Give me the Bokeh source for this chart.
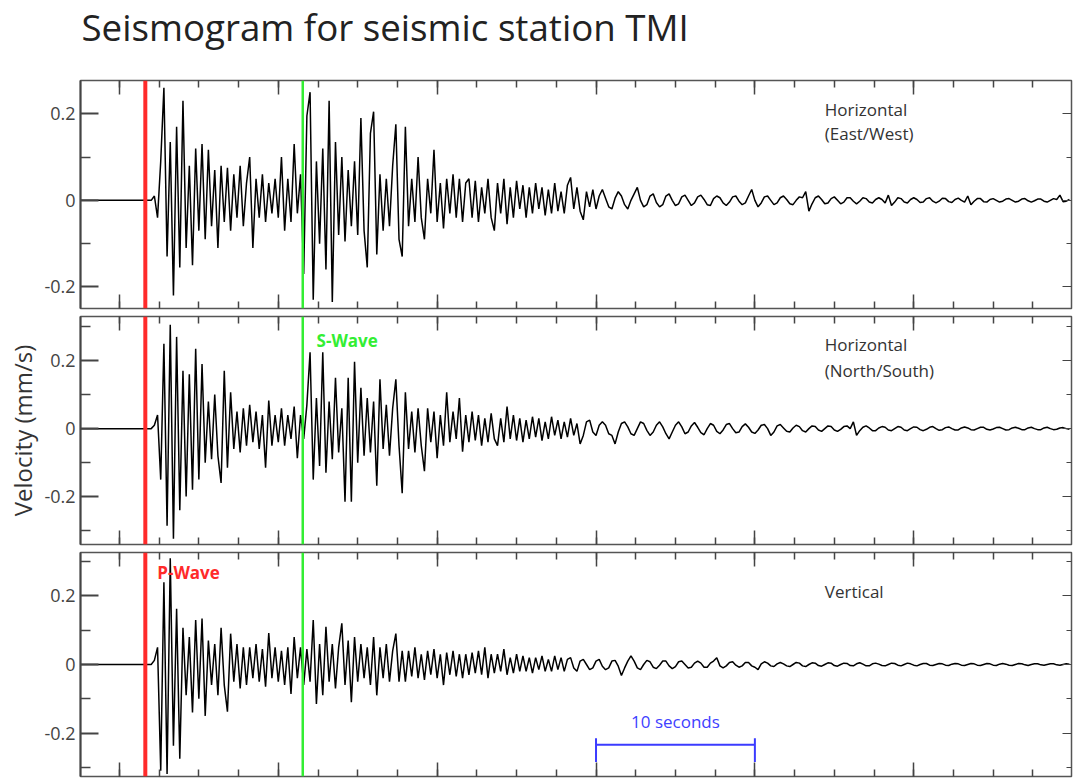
import numpy as np
from bokeh.plotting import figure
from bokeh.layouts import column
from bokeh.models import (Range1d, LinearAxis, FixedTicker, Span, Label,
                          CustomJSTickFormatter, CustomLabelingPolicy)
from bokeh.embed import file_html
from bokeh.resources import INLINE

# ---------------- data ----------------
title_text = "Seismogram for seismic station TMI"
y_label = "Velocity (mm/s)"
panel_names = [["Horizontal", "(East/West)"], ["Horizontal", "(North/South)"], ["Vertical"]]

t_start, t_end = -2.45, 59.93         # seconds shown
sample_start, sample_step = 2.0, 0.2  # sampling grid of the traces below
p_wave_time = 1.63
s_wave_time = 11.54
scale_bar_start, scale_bar_len = 30.0, 10.0
scale_bar_text = "10 seconds"

# East/West component (mm/s)
ew_values = [
    0.0, 0.01, -0.04, 0.09, 0.26, -0.13, 0.135, -0.22, 0.17, -0.155,
    0.23, -0.11, 0.08, -0.15, 0.12, -0.07, 0.13, -0.09, 0.117, -0.06,
    0.07, -0.11, 0.08, -0.05, 0.075, -0.07, 0.06, -0.04, 0.08, -0.06,
    0.04, 0.1, -0.11, 0.05, -0.04, 0.06, -0.05, 0.04, -0.03, 0.05,
    -0.04, 0.1, -0.07, 0.05, -0.05, 0.13, -0.03, 0.06, -0.17, 0.195,
    0.25, -0.23, 0.09, -0.1, 0.12, -0.16, 0.23, -0.235, 0.135, -0.08,
    0.1, -0.095, 0.07, -0.06, 0.09, -0.08, 0.19, -0.07, -0.155, 0.155,
    0.205, -0.125, 0.06, -0.07, 0.05, -0.06, 0.08, 0.176, -0.09, -0.13,
    0.17, -0.06, 0.05, -0.05, 0.1, -0.04, -0.09, 0.05, -0.03, 0.117,
    -0.05, 0.04, -0.065, 0.05, -0.03, 0.06, -0.04, 0.05, -0.05, 0.04,
    0.05, -0.04, 0.045, -0.05, 0.03, -0.03, 0.05, -0.04, -0.07, 0.04,
    -0.03, 0.05, -0.055, 0.03, -0.04, 0.045, -0.02, 0.035, -0.04, 0.03,
    -0.03, 0.04, -0.02, 0.03, -0.035, 0.025, -0.03, 0.04, -0.025, 0.02,
    -0.03, 0.035, 0.053, -0.02, 0.03, -0.025, -0.045, 0.02, -0.015, 0.025,
    -0.02, 0.01, 0.025, 0.005, -0.015, -0.02, 0.005, 0.02, 0.01, -0.01,
    -0.02, 0.0, 0.015, 0.03, 0.0, -0.015, -0.01, 0.01, 0.015, -0.005,
    -0.015, -0.01, 0.01, 0.015, 0.0, -0.012, -0.008, 0.008, 0.012, 0.0,
    -0.012, -0.006, 0.008, 0.012, 0.002, -0.01, -0.012, 0.004, 0.01, 0.006,
    -0.006, -0.012, -0.004, 0.008, 0.01, -0.002, -0.01, -0.006, 0.01, 0.025,
    0.0, -0.015, -0.006, 0.008, 0.01, 0.0, -0.01, -0.006, 0.006, 0.01,
    0.002, -0.008, -0.01, 0.0, 0.008, 0.006, 0.02, -0.025, -0.008, 0.006,
    0.01, 0.002, -0.008, -0.006, 0.004, 0.008, 0.0, -0.008, -0.004, 0.006,
    0.006, -0.002, -0.008, -0.002, 0.006, 0.004, -0.004, -0.006, 0.002, 0.006,
    0.002, -0.006, 0.012, -0.012, -0.004, 0.006, 0.004, -0.004, -0.006, 0.002,
    0.006, 0.002, -0.005, -0.004, 0.004, 0.006, -0.002, -0.006, -0.002, 0.005,
    0.004, -0.003, -0.005, 0.002, 0.005, 0.0, -0.004, 0.01, -0.01, -0.002,
    0.004, 0.004, -0.003, -0.004, 0.002, 0.004, 0.0, -0.004, -0.002, 0.003,
    0.004, 0.0, -0.004, -0.002, 0.003, 0.004, -0.001, -0.004, -0.001, 0.003,
    0.003, -0.002, -0.004, 0.0, 0.004, 0.002, 0.012, -0.003, -0.002, 0.002,
]

# North/South component (mm/s)
ns_values = [
    0.0, 0.01, 0.04, -0.15, 0.25, -0.286, 0.306, -0.324, 0.27, -0.24,
    0.17, -0.2, 0.16, -0.18, 0.235, -0.15, 0.19, -0.1, 0.08, -0.09,
    0.1, -0.08, -0.16, 0.17, -0.115, 0.107, -0.06, 0.05, -0.07, 0.06,
    -0.05, 0.07, -0.04, 0.05, -0.06, 0.04, -0.115, 0.083, -0.05, 0.04,
    -0.04, 0.06, -0.05, 0.04, -0.03, 0.065, -0.087, 0.04, -0.03, 0.07,
    0.225, -0.15, 0.09, -0.11, 0.225, -0.13, 0.08, -0.09, 0.15, -0.07,
    0.06, -0.215, 0.15, -0.215, 0.197, -0.1, 0.12, -0.08, 0.09, -0.07,
    0.08, -0.168, 0.145, -0.06, 0.07, -0.08, 0.06, 0.145, -0.05, -0.19,
    0.107, -0.06, 0.05, -0.07, 0.06, -0.05, -0.125, 0.06, -0.04, 0.05,
    -0.087, 0.04, -0.05, 0.107, -0.04, 0.05, -0.03, 0.09, -0.068, 0.04,
    -0.04, 0.05, -0.035, 0.04, -0.05, 0.03, -0.04, 0.045, -0.03, -0.05,
    0.03, -0.04, 0.065, -0.03, 0.04, -0.035, 0.03, -0.04, 0.025, -0.03,
    0.035, -0.025, 0.03, -0.035, 0.02, -0.03, 0.035, -0.02, 0.025, -0.03,
    0.02, -0.025, 0.03, -0.02, 0.015, -0.045, -0.02, 0.02, 0.025, -0.01,
    -0.02, 0.01, 0.02, 0.01, -0.015, -0.02, -0.045, -0.01, 0.015, 0.02,
    0.005, -0.015, -0.02, 0.0, 0.02, 0.015, -0.005, -0.02, -0.01, 0.01,
    0.02, 0.005, -0.015, -0.03, -0.01, 0.01, 0.02, 0.005, -0.015, -0.01,
    0.008, 0.018, 0.004, -0.012, -0.018, 0.0, 0.015, 0.01, -0.008, -0.015,
    -0.004, 0.012, 0.015, 0.0, -0.012, -0.01, 0.006, 0.014, 0.004, -0.01,
    -0.014, -0.004, 0.01, 0.012, 0.0, -0.02, -0.01, 0.008, 0.012, 0.002,
    -0.008, -0.01, 0.002, 0.01, 0.006, -0.006, -0.01, 0.0, 0.008, 0.006,
    -0.004, -0.008, 0.0, 0.008, 0.006, -0.004, -0.008, -0.002, 0.006, 0.008,
    0.0, 0.02, -0.02, -0.006, 0.004, 0.008, 0.002, -0.006, -0.006, 0.002,
    0.006, 0.004, -0.004, -0.006, 0.0, 0.006, 0.004, -0.004, -0.006, 0.0,
    0.005, 0.004, -0.003, -0.006, -0.002, 0.004, 0.006, 0.0, -0.005, -0.003,
    0.003, 0.005, 0.0, -0.004, -0.004, 0.002, 0.005, 0.002, -0.003, -0.004,
    0.0, 0.004, 0.004, -0.002, -0.004, -0.001, 0.003, 0.004, 0.0, -0.004,
    -0.003, 0.002, 0.004, 0.001, -0.003, -0.003, 0.002, 0.004, 0.0, -0.003,
    -0.003, 0.002, 0.004, 0.0, -0.003, -0.002, 0.002, 0.003, 0.0, -0.002,
]

# Vertical component (mm/s)
z_values = [
    0.0, 0.012, 0.05, -0.31, 0.24, -0.32, 0.31, -0.237, 0.163, -0.275,
    0.107, -0.09, 0.08, -0.14, 0.13, -0.1, 0.134, -0.15, 0.07, -0.06,
    0.06, -0.09, 0.107, -0.06, -0.138, 0.09, -0.05, 0.06, -0.07, 0.05,
    -0.06, 0.05, -0.04, 0.06, -0.05, 0.045, -0.065, 0.092, -0.04, 0.05,
    -0.05, 0.04, -0.06, 0.05, -0.086, 0.08, -0.04, 0.05, -0.06, 0.045,
    -0.05, 0.13, -0.115, 0.06, -0.09, 0.11, -0.05, 0.06, -0.07, 0.05,
    0.12, -0.06, 0.07, -0.11, 0.08, -0.05, 0.06, -0.04, 0.05, -0.06,
    0.08, -0.09, 0.05, -0.04, 0.06, -0.05, 0.04, 0.09, -0.05, 0.04,
    -0.05, 0.04, -0.035, 0.05, -0.04, 0.03, -0.045, 0.04, -0.03, 0.045,
    -0.04, 0.03, -0.06, 0.035, -0.03, 0.04, -0.035, 0.03, -0.04, 0.03,
    -0.03, 0.035, -0.025, 0.04, -0.03, 0.05, -0.04, 0.03, -0.025, 0.03,
    -0.02, 0.045, -0.03, 0.02, -0.025, 0.03, -0.02, 0.025, -0.02, 0.02,
    -0.025, 0.02, -0.015, 0.025, -0.02, 0.015, -0.02, 0.025, -0.015, 0.02,
    -0.02, 0.015, 0.02, -0.01, -0.02, 0.01, 0.015, 0.0, -0.015, -0.01,
    0.01, 0.015, -0.005, -0.015, -0.01, 0.01, 0.012, -0.005, -0.032, -0.01,
    0.01, 0.025, 0.01, -0.01, -0.015, 0.0, 0.012, 0.008, -0.008, -0.012,
    -0.002, 0.01, 0.01, -0.004, -0.012, -0.006, 0.008, 0.01, 0.0, -0.01,
    -0.008, 0.004, 0.01, 0.004, -0.008, -0.008, 0.004, 0.01, 0.02, -0.004,
    -0.01, -0.004, 0.006, 0.008, -0.002, -0.008, -0.004, 0.006, 0.006, -0.004,
    -0.008, -0.015, 0.002, 0.008, 0.004, -0.004, -0.006, 0.002, 0.006, 0.002,
    -0.004, -0.006, 0.0, 0.006, 0.004, -0.004, -0.006, 0.0, 0.005, 0.004,
    -0.003, -0.005, 0.0, 0.005, 0.004, -0.003, -0.005, 0.0, 0.004, 0.003,
    -0.003, -0.004, 0.002, 0.005, 0.001, -0.004, -0.004, 0.002, 0.004, 0.001,
    -0.003, -0.004, 0.0, 0.004, 0.003, -0.002, -0.004, 0.0, 0.004, 0.002,
    -0.002, -0.004, 0.0, 0.003, 0.003, -0.002, -0.003, 0.0, 0.003, 0.002,
    -0.002, -0.003, 0.001, 0.003, 0.002, -0.002, -0.003, 0.0, 0.003, 0.002,
    -0.002, -0.003, 0.0, 0.003, 0.002, -0.002, -0.003, 0.001, 0.003, 0.001,
    -0.002, -0.003, 0.0, 0.003, 0.002, -0.001, -0.003, 0.0, 0.002, 0.002,
    -0.001, -0.002, 0.0, 0.002, 0.002, -0.001, -0.002, 0.0, 0.002, 0.001,
]

y_major_ticks = [-0.2, 0.0, 0.2]
y_minor_ticks = [-0.3, -0.1, 0.1, 0.3]
x_major_ticks = [0, 10, 20, 30, 40, 50, 60]
x_minor_ticks = [-2.5 + 2.5 * i for i in range(26)]

# ---------------- layout / style ----------------
FONT = "Open Sans"
AX = "#444444"
panels = [
    # values, y-range, figure height, label y positions
    dict(values=ew_values, yr=(-0.250, 0.277), h=236, label_y=[0.21, 0.154]),
    dict(values=ns_values, yr=(-0.341, 0.330), h=236, label_y=[0.247, 0.170]),
    dict(values=z_values, yr=(-0.327, 0.327), h=232, label_y=[0.214]),
]
label_x = 44.4

# ---- title strip (a blank figure that only carries the title text) ----
# its frame is aligned with the panels below (80 px from the left), ranges are in pixels
head = figure(width=1076, height=76, x_range=Range1d(0, 995), y_range=Range1d(0, 76),
              output_backend="svg", toolbar_location=None,
              x_axis_type=None, y_axis_type=None, min_border=0)
head.outline_line_color = None
head.grid.visible = False
head.add_layout(Label(x=1, y=49.4, text=title_text, text_font=FONT, text_font_size="36.7px",
                      text_color="#222222", text_baseline="middle", text_align="left"))

x_range = Range1d(t_start, t_end)
fmt = CustomJSTickFormatter(code="return tick == 0 ? '0' : tick.toFixed(1);")
hide_all = CustomLabelingPolicy(code="for (const i of indices) indices.unset(i); return indices;")

figs = []
for i, pd_ in enumerate(panels):
    p = figure(width=1076, height=pd_["h"], x_range=x_range,
               y_range=Range1d(*pd_["yr"]), output_backend="svg",
               toolbar_location=None, x_axis_type=None, y_axis_type=None,
               min_border_left=80, min_border_right=1,
               min_border_top=0, min_border_bottom=0)
    p.outline_line_color = "#555555"
    p.outline_line_width = 1.5
    p.background_fill_color = "white"
    p.border_fill_color = "white"

    left = LinearAxis(ticker=FixedTicker(ticks=y_major_ticks, minor_ticks=y_minor_ticks),
                      formatter=fmt,
                      major_tick_in=18, major_tick_out=0, minor_tick_in=10, minor_tick_out=0,
                      major_tick_line_color=AX, minor_tick_line_color=AX,
                      major_tick_line_width=2, minor_tick_line_width=1.5,
                      axis_line_color=AX, axis_line_width=2,
                      major_label_text_font=FONT, major_label_text_font_size="18px",
                      major_label_text_color="#444444", major_label_standoff=5)
    if i == 1:
        left.axis_label = y_label
        left.axis_label_text_font = FONT
        left.axis_label_text_font_size = "24px"
        left.axis_label_text_font_style = "normal"
        left.axis_label_text_color = "#333333"
        left.axis_label_standoff = 2
    p.add_layout(left, "left")

    right = LinearAxis(ticker=FixedTicker(ticks=y_major_ticks, minor_ticks=y_minor_ticks),
                       major_tick_in=9, major_tick_out=0, minor_tick_in=5, minor_tick_out=0,
                       major_tick_line_color=AX, minor_tick_line_color=AX,
                       axis_line_color=None, major_label_text_font_size="1px",
                       major_label_policy=hide_all, major_label_standoff=0)
    p.add_layout(right, "right")

    for side in ("above", "below"):
        xa = LinearAxis(ticker=FixedTicker(ticks=x_major_ticks, minor_ticks=x_minor_ticks),
                        major_tick_in=14, major_tick_out=0, minor_tick_in=7, minor_tick_out=0,
                        major_tick_line_color=AX, minor_tick_line_color=AX,
                        major_tick_line_width=1.5, minor_tick_line_width=1.5,
                        axis_line_color=None, major_label_text_font_size="1px",
                        major_label_policy=hide_all, major_label_standoff=0)
        p.add_layout(xa, side)

    vals = pd_["values"]
    t = np.concatenate([[t_start], sample_start + sample_step * np.arange(len(vals))])
    v = np.concatenate([[0.0], vals])
    p.line(t, v, line_color="black", line_width=1.5)

    p.add_layout(Span(location=p_wave_time, dimension="height", line_color="#ff2a2a", line_width=4))
    p.add_layout(Span(location=s_wave_time, dimension="height", line_color="#33ee33", line_width=2.5))

    for name, ly in zip(panel_names[i], pd_["label_y"]):
        p.add_layout(Label(x=label_x, y=ly, text=name, text_font=FONT, text_font_size="17px",
                           text_color="#333333", text_baseline="middle", text_align="left"))
    figs.append(p)

# wave labels
figs[1].add_layout(Label(x=12.41, y=0.259, text="S-Wave", text_font=FONT, text_font_size="17px",
                         text_font_style="bold", text_color="#33ee33", text_baseline="middle"))
figs[2].add_layout(Label(x=2.38, y=0.27, text="P-Wave", text_font=FONT, text_font_size="17px",
                         text_font_style="bold", text_color="#ff2a2a", text_baseline="middle"))

# scale bar
bot = figs[2]
bar_y = -0.234
bot.segment(x0=[scale_bar_start], y0=[bar_y], x1=[scale_bar_start + scale_bar_len], y1=[bar_y],
            line_color="#3b3bff", line_width=2)
bot.segment(x0=[scale_bar_start, scale_bar_start + scale_bar_len], y0=[-0.215, -0.215],
            x1=[scale_bar_start, scale_bar_start + scale_bar_len], y1=[-0.285, -0.285],
            line_color="#3b3bff", line_width=2)
bot.add_layout(Label(x=scale_bar_start + scale_bar_len / 2, y=-0.166, text=scale_bar_text,
                     text_font=FONT, text_font_size="17px", text_color="#4040ff",
                     text_align="center", text_baseline="middle"))

layout = column(head, *figs, spacing=0)
open("out.html", "w").write(file_html(layout, INLINE))
